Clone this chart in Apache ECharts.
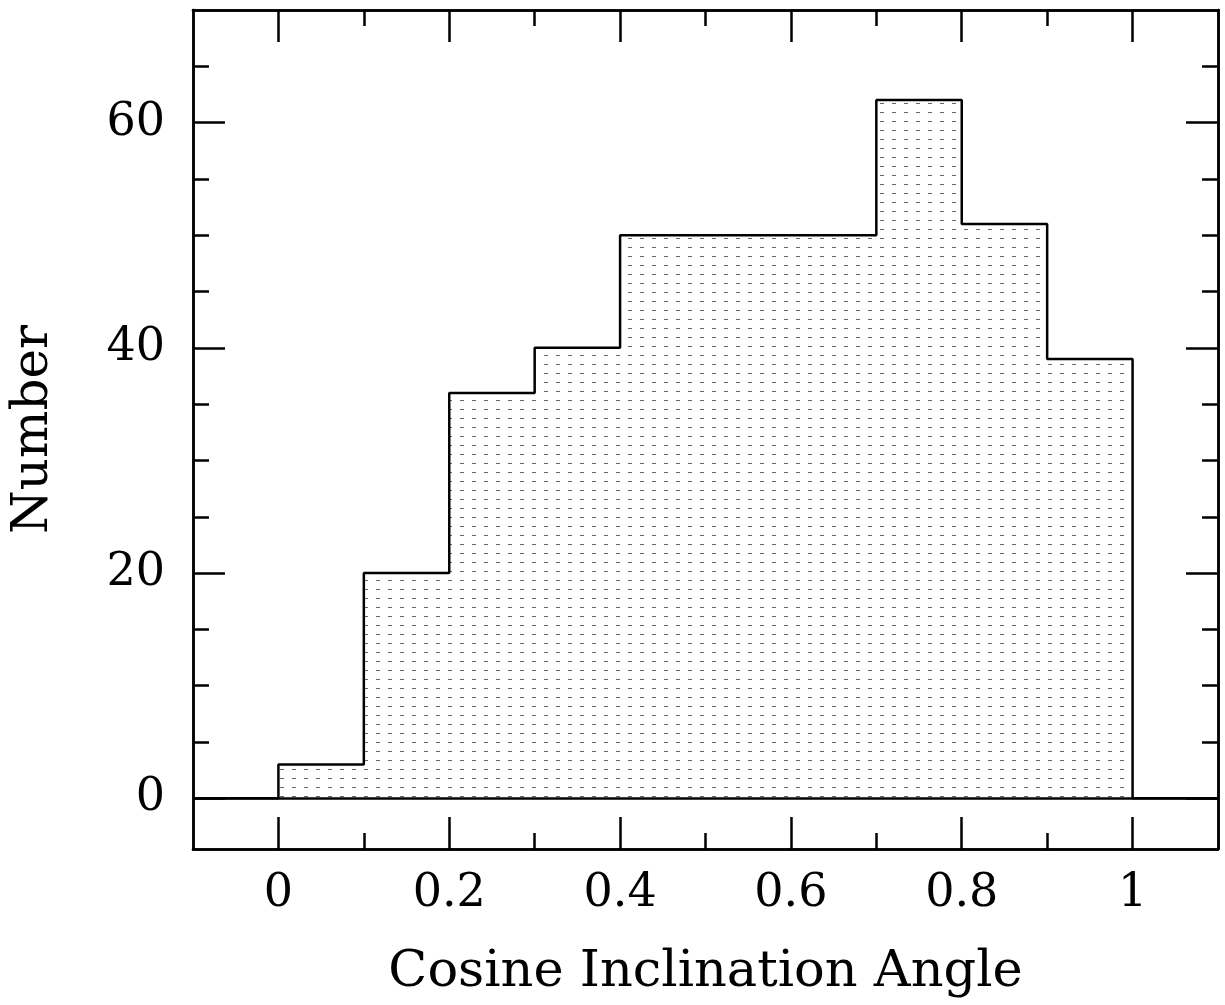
<!DOCTYPE html>
<html><head><meta charset="utf-8">
<script src="https://cdn.jsdelivr.net/npm/echarts@6/dist/echarts.min.js"></script>
<style>html,body{margin:0;padding:0;background:#fff}#c{width:1225px;height:1005px}</style>
</head><body><div id="c"></div>
<script>
// Data
const binStarts = [0, 0.1, 0.2, 0.3, 0.4, 0.5, 0.6, 0.7, 0.8, 0.9];
const binEnd = 1.0;
const counts = [3, 20, 36, 40, 50, 50, 50, 62, 51, 39];
const xMajorTicks = [0, 0.2, 0.4, 0.6, 0.8, 1];
const xMinorTicks = [0.1, 0.3, 0.5, 0.7, 0.9];
const yMajorTicks = [0, 20, 40, 60];
const yMinorTicks = [5, 10, 15, 25, 30, 35, 45, 50, 55, 65];
const xRange = [-0.1, 1.1];
const yRange = [-4.5, 70];

// step outline points (value holds from x to next x)
const stepData = [[xRange[0], 0]]
  .concat(binStarts.map((x, i) => [x, counts[i]]))
  .concat([[binEnd, 0], [xRange[1], 0]]);

// dashed dot pattern fill
const pat = document.createElement('canvas');
pat.width = 12; pat.height = 9;
const pc = pat.getContext('2d');
pc.fillStyle = '#fff'; pc.fillRect(0, 0, 12, 9);
pc.fillStyle = '#666'; pc.fillRect(4, 4, 4, 1);

const FONT = 'DejaVu Serif';
const lineStyle = {color: '#000', width: 2.5};

function xAx(pos, ticks, len, labels) {
  return {
    type: 'value', min: xRange[0], max: xRange[1], position: pos, gridIndex: 0,
    axisLine: {show: true, onZero: false, lineStyle},
    axisTick: {show: true, inside: true, length: len, customValues: ticks, lineStyle},
    axisLabel: labels ? {show: true, customValues: labels, margin: 22, color: '#000',
      fontFamily: FONT, fontSize: 46} : {show: false},
    splitLine: {show: false}
  };
}
function yAx(pos, ticks, len, labels) {
  return {
    type: 'value', min: yRange[0], max: yRange[1], position: pos, gridIndex: 0,
    axisLine: {show: true, onZero: false, lineStyle},
    axisTick: {show: true, inside: true, length: len, customValues: ticks, lineStyle},
    axisLabel: labels ? {show: true, customValues: labels, margin: 28, color: '#000',
      fontFamily: FONT, fontSize: 46} : {show: false},
    splitLine: {show: false}
  };
}

const xAxes = [
  xAx('bottom', xMajorTicks, 32, xMajorTicks),
  xAx('bottom', xMinorTicks, 16, null),
  xAx('top', xMajorTicks, 32, null),
  xAx('top', xMinorTicks, 16, null)
];
xAxes[0].name = 'Cosine Inclination Angle';
xAxes[0].nameLocation = 'middle';
xAxes[0].nameGap = 98;
xAxes[0].nameTextStyle = {color: '#000', fontFamily: FONT, fontSize: 51};

const yAxes = [
  yAx('left', yMajorTicks, 32, yMajorTicks),
  yAx('left', yMinorTicks, 16, null),
  yAx('right', yMajorTicks, 32, null),
  yAx('right', yMinorTicks, 16, null)
];
yAxes[0].name = 'Number';
yAxes[0].nameLocation = 'middle';
yAxes[0].nameGap = 134;
yAxes[0].nameTextStyle = {color: '#000', fontFamily: FONT, fontSize: 50};

const chart = echarts.init(document.getElementById('c'), null, {renderer: 'canvas'});
chart.setOption({
  animation: false,
  backgroundColor: '#fff',
  grid: {left: 193, right: 7, top: 10, bottom: 156, containLabel: false, outerBoundsMode: 'none'},
  xAxis: xAxes,
  yAxis: yAxes,
  series: [{
    type: 'line',
    xAxisIndex: 0, yAxisIndex: 0,
    step: 'end',
    data: stepData,
    symbol: 'none',
    lineStyle: {color: '#000', width: 2.5},
    areaStyle: {color: {image: pat, repeat: 'repeat'}, opacity: 1, origin: 0},
    markLine: {
      silent: true, symbol: 'none', label: {show: false},
      lineStyle: {color: '#000', width: 2.5, type: 'solid'},
      data: [{yAxis: 0}]
    },
    z: 3
  }]
});
</script>
</body></html>
